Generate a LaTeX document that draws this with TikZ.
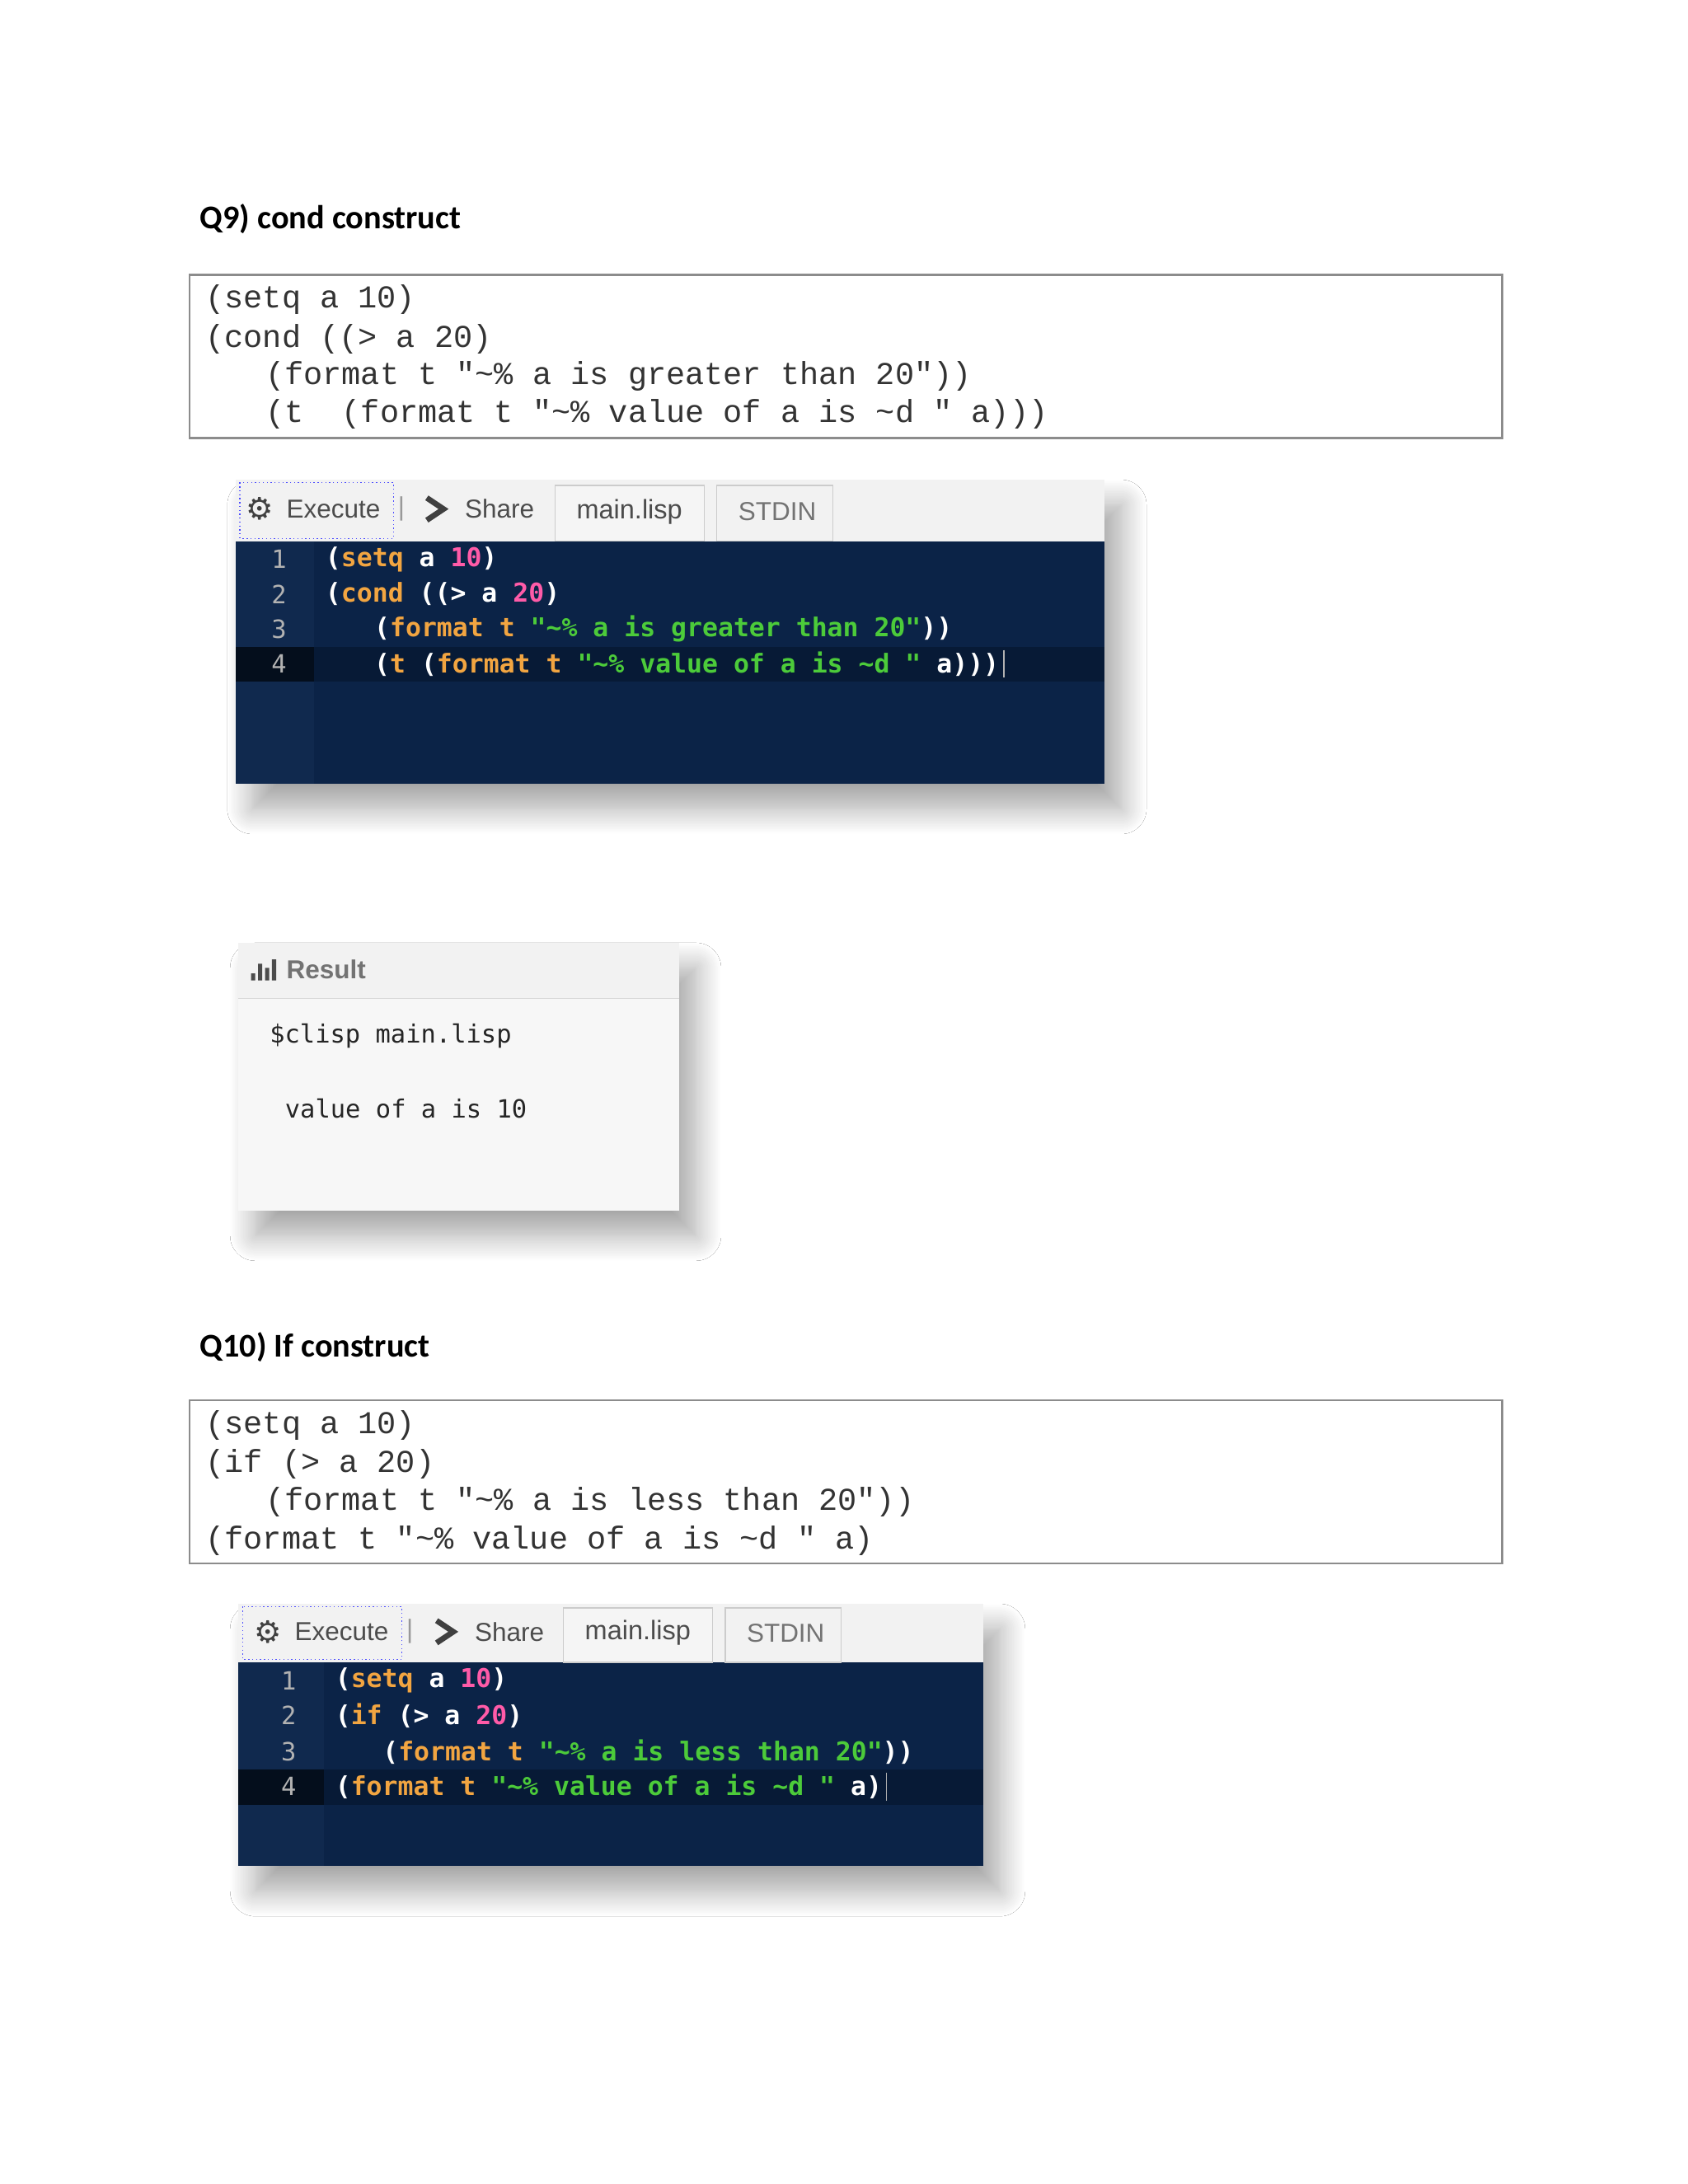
\documentclass[tikz,border=0pt]{standalone}
\usepackage{fontspec}
\setmainfont{Carlito}
\newfontfamily\cour{Liberation Mono}
\newfontfamily\dmono{DejaVu Sans Mono}
\newfontfamily\ui{Liberation Sans}
\newfontfamily\djv{DejaVu Sans}
\usetikzlibrary{shadows.blur}
\definecolor{navy}{HTML}{0B2347}
\definecolor{gutter}{HTML}{10294E}
\definecolor{hl}{HTML}{071A36}
\definecolor{kw}{HTML}{F2A541}
\definecolor{nm}{HTML}{FF5BA8}
\definecolor{st}{HTML}{4CCB3A}
\definecolor{tabbg}{HTML}{F2F2F2}
\newcommand{\Kw}[1]{\textcolor{kw}{#1}}
\newcommand{\Nm}[1]{\textcolor{nm}{#1}}
\newcommand{\Str}[1]{\textcolor{st}{#1}}
\newcommand{\tl}{\textasciitilde}
\tikzset{
  head/.style={anchor=base west,font=\bfseries\fontsize{11.9}{13}\selectfont,inner sep=0},
  codebox/.style={draw=black!45,line width=0.8pt},
  cline/.style={anchor=west,inner sep=0,font=\cour\fontsize{11.4}{13}\selectfont,text=black!80},
  sline/.style={anchor=west,inner sep=0,font=\dmono\bfseries\fontsize{9.3}{11}\selectfont,text=white},
  lnum/.style={anchor=center,inner sep=0,font=\dmono\fontsize{9}{11}\selectfont,text=black!30},
  uitext/.style={anchor=west,inner sep=0,font=\ui\fontsize{9.3}{11}\selectfont,text=black!70},
  tab/.style={draw=black!20,fill=white!96!black},
  shot/.style={blur shadow={shadow xshift=6pt,shadow yshift=-9pt,shadow blur radius=9pt,shadow blur steps=16,shadow opacity=35}},
}
\begin{document}
\begin{tikzpicture}[x=0.5pt,y=-0.5pt]
\useasboundingbox[fill=white] (0,0) rectangle (1210,1566);
% ---------- Q9
\node[head] (h9) at (143,164) {Q9) cond construct};
\draw[codebox] (136,197) rectangle (1077,314);
\node[cline] (a1) at (147,215) {(setq a 10)};
\node[cline] (a2) at (147,243) {(cond ((> a 20)};
\node[cline] (a3) at (190,270) {(format t "\tl\% a is greater than 20"))};
\node[cline] (a4) at (190,297) {(t \ (format t "\tl\% value of a is \tl d " a)))};
% screenshot 1
\fill[shot,navy] (169,344) rectangle (792,562);
\fill[tabbg] (169,344) rectangle (792,388);
\fill[gutter] (169,388) rectangle (225,562);
\fill[hl] (225,464) rectangle (792,489);
\fill[black!60!navy] (169,464) rectangle (225,489);
\draw[blue!70,densely dotted] (172,346) rectangle (282,386);
\node[anchor=center,inner sep=0,font=\djv\bfseries\fontsize{11}{12}\selectfont,text=black!75] (g1) at (186,365) {⚙};
\node[uitext] (e1) at (205,365) {Execute};
\node[uitext,text=black!40] (p1) at (285,365) {|};
\draw[line width=2pt,black!75] (306,357) -- (318,365) -- (306,373);
\node[uitext] (s1) at (333,365) {Share};
\draw[tab] (398,348) rectangle (505,388);
\node[uitext,font=\ui\fontsize{9.6}{11}\selectfont] (m1) at (413,367) {main.lisp};
\draw[tab,fill=tabbg] (514,348) rectangle (597,388);
\node[uitext,text=black!55] (t1) at (529,367) {STDIN};
\foreach \i/\y in {1/401,2/426,3/451,4/476} \node[lnum] at (200,\y) {\i};
\node[sline] (b1) at (233,401) {(\Kw{setq} a \Nm{10})};
\node[sline] (b2) at (233,426) {(\Kw{cond} ((> a \Nm{20})};
\node[sline] (b3) at (268,451) {(\Kw{format t} \Str{"\tl\% a is greater than 20"}))};
\node[sline] (b4) at (268,476) {(\Kw{t} (\Kw{format t} \Str{"\tl\% value of a is \tl d "} a)))};
\draw[white!70!black] (b4.east)++(3,-10) -- ++(0,20);
% result box
\fill[shot,white!97!black] (171,676) rectangle (487,868);
\fill[tabbg] (171,676) rectangle (487,716);
\draw[black!15] (171,716) -- (487,716);
\fill[black!70] (180,698) rectangle (183,703) (185,691) rectangle (188,703) (190,694) rectangle (193,703) (195,688) rectangle (198,703);
\node[uitext,font=\ui\bfseries\fontsize{9.3}{11}\selectfont,text=black!55] (r) at (205,695) {Result};
\node[sline,text=black!85,font=\dmono\fontsize{9.0}{11}\selectfont] (c1) at (193,743) {\$clisp main.lisp};
\node[sline,text=black!85,font=\dmono\fontsize{9.0}{11}\selectfont] (c2) at (204,795) {value of a is 10};
% ---------- Q10
\node[head] (h10) at (143,973) {Q10) If construct};
\draw[codebox] (136,1004) rectangle (1077,1121);
\node[cline] (d1) at (147,1022) {(setq a 10)};
\node[cline] (d2) at (147,1050) {(if (> a 20)};
\node[cline] (d3) at (190,1077) {(format t "\tl\% a is less than 20"))};
\node[cline] (d4) at (147,1105) {(format t "\tl\% value of a is \tl d " a)};
% screenshot 2
\fill[shot,navy] (171,1150) rectangle (705,1338);
\fill[tabbg] (171,1150) rectangle (705,1192);
\fill[gutter] (171,1192) rectangle (232,1338);
\fill[hl] (232,1269) rectangle (705,1294);
\fill[black!60!navy] (171,1269) rectangle (232,1294);
\draw[blue!70,densely dotted] (174,1152) rectangle (288,1190);
\node[anchor=center,inner sep=0,font=\djv\bfseries\fontsize{11}{12}\selectfont,text=black!75] (g2) at (192,1170) {⚙};
\node[uitext] (e2) at (211,1170) {Execute};
\node[uitext,text=black!40] (p2) at (291,1170) {|};
\draw[line width=2pt,black!75] (313,1162) -- (325,1170) -- (313,1178);
\node[uitext] (s2) at (340,1170) {Share};
\draw[tab] (404,1153) rectangle (511,1192);
\node[uitext,font=\ui\fontsize{9.6}{11}\selectfont] (m2) at (419,1171) {main.lisp};
\draw[tab,fill=tabbg] (520,1153) rectangle (603,1192);
\node[uitext,text=black!55] (t2) at (535,1171) {STDIN};
\foreach \i/\y in {1/1205,2/1230,3/1256,4/1281} \node[lnum] at (207,\y) {\i};
\node[sline] (f1) at (240,1205) {(\Kw{setq} a \Nm{10})};
\node[sline] (f2) at (240,1230) {(\Kw{if} (> a \Nm{20})};
\node[sline] (f3) at (274,1256) {(\Kw{format t} \Str{"\tl\% a is less than 20"}))};
\node[sline] (f4) at (240,1281) {(\Kw{format t} \Str{"\tl\% value of a is \tl d "} a)};
\draw[white!70!black] (f4.east)++(3,-10) -- ++(0,20);
\end{tikzpicture}
\end{document}
